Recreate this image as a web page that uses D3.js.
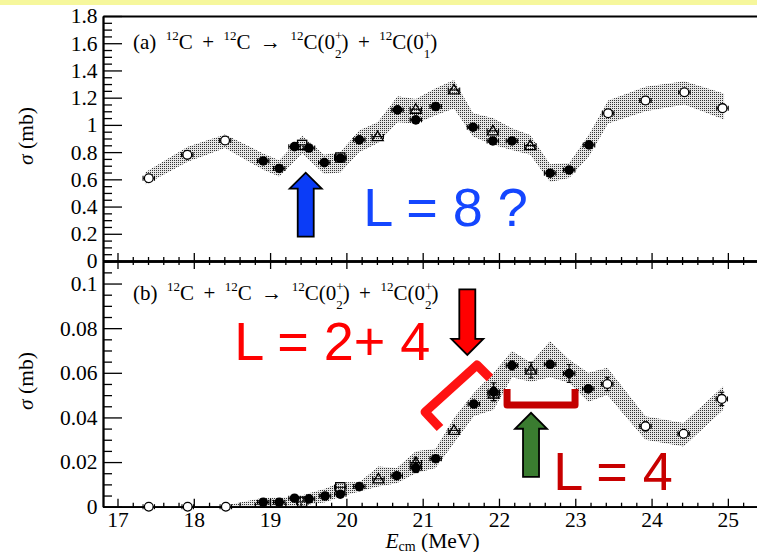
<!DOCTYPE html>
<html>
<head>
<meta charset="utf-8">
<script src="https://cdn.jsdelivr.net/npm/d3@7"></script>
<style>
  html, body { margin: 0; padding: 0; background: #fff; }
  svg { display: block; }
  text { white-space: pre; }
</style>
</head>
<body>
<svg id="chart" width="757" height="552"></svg>
<script>
// ---------- axis ticks ----------
const xTicks  = [17, 18, 19, 20, 21, 22, 23, 24, 25];
const yTicksA = [0, 0.2, 0.4, 0.6, 0.8, 1, 1.2, 1.4, 1.6, 1.8];
const yTicksB = [0, 0.02, 0.04, 0.06, 0.08, 0.1];

// ---------- panel (a): 12C(0+2) + 12C(0+1) ----------
const aE      = [17.41, 17.915, 18.41, 18.91, 19.12, 19.32, 19.42, 19.51, 19.71, 19.92, 19.92, 20.17, 20.41, 20.67, 20.91, 20.91, 21.17, 21.41, 21.66, 21.92, 21.92, 22.17, 22.41, 22.67, 22.92, 23.18, 23.43, 23.92, 24.43, 24.93];
const aSigma  = [0.608, 0.78, 0.885, 0.735, 0.68, 0.84, 0.853, 0.83, 0.723, 0.76, 0.755, 0.89, 0.914, 1.11, 1.115, 1.037, 1.135, 1.257, 0.983, 0.956, 0.882, 0.882, 0.848, 0.645, 0.669, 0.853, 1.086, 1.179, 1.24, 1.123];
const aMarker = ["oc", "oc", "oc", "fc", "fc", "fc", "sq", "fc", "fc", "sq", "fc", "fc", "tri", "fc", "tri", "fc", "fc", "tri", "fc", "tri", "fc", "fc", "tri", "fc", "fc", "fc", "oc", "oc", "oc", "oc"];

// calculated band, panel (a)
const bandA_E  = [17.36, 17.92, 18.41, 18.91, 19.12, 19.42, 19.71, 19.92, 20.17, 20.41, 20.67, 20.91, 21.17, 21.41, 21.66, 21.92, 22.17, 22.41, 22.67, 22.92, 23.18, 23.43, 23.92, 24.43, 24.95];
const bandA_lo = [0.56, 0.73, 0.83, 0.67, 0.62, 0.79, 0.64, 0.65, 0.80, 0.865, 1.02, 1.01, 1.07, 1.12, 0.915, 0.855, 0.815, 0.78, 0.58, 0.61, 0.77, 1.01, 1.10, 1.15, 1.04];
const bandA_hi = [0.65, 0.84, 0.93, 0.79, 0.74, 0.92, 0.78, 0.80, 0.96, 1.02, 1.21, 1.19, 1.27, 1.33, 1.085, 1.05, 0.975, 0.925, 0.71, 0.72, 0.93, 1.18, 1.28, 1.32, 1.23];

// ---------- panel (b): 12C(0+2) + 12C(0+2) ----------
const bE      = [17.41, 17.92, 18.42, 18.91, 19.12, 19.32, 19.42, 19.51, 19.72, 19.92, 19.92, 20.17, 20.42, 20.66, 20.91, 20.91, 21.17, 21.41, 21.67, 21.93, 21.93, 22.17, 22.42, 22.67, 22.92, 23.17, 23.42, 23.92, 24.42, 24.92];
const bSigma  = [0, 0, 0, 0.0020, 0.0020, 0.0038, 0.0022, 0.0035, 0.0048, 0.0087, 0.0056, 0.0090, 0.0125, 0.0139, 0.0198, 0.0173, 0.0215, 0.0342, 0.0460, 0.0505, 0.0515, 0.0633, 0.0612, 0.0638, 0.0597, 0.0528, 0.0550, 0.0360, 0.0327, 0.0483];
const bErr    = [0, 0, 0, 0, 0, 0, 0, 0, 0, 0, 0, 0, 0, 0, 0.002, 0.002, 0, 0, 0.001, 0.003, 0.004, 0.002, 0.0035, 0.0015, 0.004, 0.0015, 0.003, 0.002, 0.0015, 0.003];
const bMarker = ["oc", "oc", "oc", "fc", "fc", "fc", "sq", "fc", "fc", "sq", "fc", "fc", "tri", "fc", "tri", "fc", "fc", "tri", "fc", "tri", "fc", "fc", "tri", "fc", "fc", "fc", "oc", "oc", "oc", "oc"];

// calculated band, panel (b)
const bandB_E  = [18.42, 18.91, 19.12, 19.32, 19.42, 19.51, 19.72, 19.92, 20.17, 20.42, 20.66, 20.91, 21.17, 21.41, 21.67, 21.93, 22.17, 22.42, 22.67, 22.92, 23.17, 23.42, 23.92, 24.42, 24.94];
const bandB_lo = [0, 0, 0, 0, 0.0005, 0.001, 0.002, 0.0045, 0.0068, 0.009, 0.0105, 0.015, 0.0173, 0.0285, 0.0405, 0.0435, 0.058, 0.056, 0.058, 0.0555, 0.047, 0.050, 0.030, 0.027, 0.0435];
const bandB_hi = [0.0005, 0.004, 0.004, 0.0045, 0.005, 0.006, 0.008, 0.011, 0.011, 0.018, 0.0173, 0.0248, 0.026, 0.0398, 0.051, 0.060, 0.0698, 0.0645, 0.0743, 0.066, 0.060, 0.0623, 0.0405, 0.0375, 0.054];

// energy bin half-width shown as horizontal error bars (MeV)
const eHalfWidth = 0.075;

// ---------- layout ----------
const svg = d3.select("#chart");
const W = 757, H = 552;
const left = 103, right = 762.2;
const topA = 16, midY = 261, botB = 506.7;
const serif = "'Liberation Serif', 'Times New Roman', Times, serif";
const sans = "'Liberation Sans', Arial, Helvetica, sans-serif";

const x  = d3.scaleLinear().domain([16.81, 25.45]).range([left, right]);
const yA = d3.scaleLinear().domain([0, 1.8]).range([midY, topA]);
const yB = d3.scaleLinear().domain([0, 0.1101]).range([botB, midY]);

// pale banner strip along the top
svg.append("rect").attr("x", 0).attr("y", 0).attr("width", W).attr("height", 5).attr("fill", "#f6f79c");

const defs = svg.append("defs");
const pat = defs.append("pattern").attr("id", "stipple")
  .attr("width", 2).attr("height", 2).attr("patternUnits", "userSpaceOnUse");
pat.append("rect").attr("width", 2).attr("height", 2).attr("fill", "#e6e6e6");
pat.append("rect").attr("width", 1).attr("height", 1).attr("fill", "#333");

defs.append("clipPath").attr("id", "clipA").append("rect")
  .attr("x", left).attr("y", topA).attr("width", right - left).attr("height", midY - topA);
defs.append("clipPath").attr("id", "clipB").append("rect")
  .attr("x", left).attr("y", midY).attr("width", right - left).attr("height", botB - midY);

// ---------- bands ----------
function drawBand(E, lo, hi, y, clip) {
  const pts = E.map((e, i) => ({ e, lo: lo[i], hi: hi[i] }));
  const area = d3.area().x(d => x(d.e)).y0(d => y(d.lo)).y1(d => y(d.hi));
  svg.append("path").attr("d", area(pts))
    .attr("fill", "url(#stipple)").attr("clip-path", `url(#${clip})`);
}
drawBand(bandA_E, bandA_lo, bandA_hi, yA, "clipA");
drawBand(bandB_E, bandB_lo, bandB_hi, yB, "clipB");

// ---------- axes ----------
function styleAxis(g, size) {
  g.style("font-family", serif).style("font-size", size + "px");
  g.select(".domain").attr("stroke", "#000").attr("stroke-width", 1.8);
  g.selectAll(".tick line").attr("stroke", "#000").attr("stroke-width", 1.3);
  g.selectAll(".tick text")
    .style("font-family", serif).style("font-size", size + "px").attr("fill", "#000");
}
const minorA = d3.range(0, 37).filter(i => i % 4 !== 0).map(i => i * 0.05);
const minorB = d3.range(0, 23).filter(i => i % 4 !== 0).map(i => i * 0.005);
const minorX = d3.range(0, 44).map(i => 16.8 + i * 0.2).filter(v => Math.abs(v - Math.round(v)) > 0.01 && v > 16.85);
const fmt = d3.format("~g");
const tickFont = 21.5;

// panel (a) y axis
let g = svg.append("g").attr("transform", `translate(${left},0)`)
  .call(d3.axisLeft(yA).tickValues(minorA).tickSize(-9).tickSizeOuter(0).tickFormat(""));
styleAxis(g, tickFont);
g = svg.append("g").attr("transform", `translate(${left},0)`)
  .call(d3.axisLeft(yA).tickValues(yTicksA).tickSize(-19).tickSizeOuter(0).tickPadding(5.5).tickFormat(fmt));
styleAxis(g, tickFont);

// panel (b) y axis
g = svg.append("g").attr("transform", `translate(${left},0)`)
  .call(d3.axisLeft(yB).tickValues(minorB).tickSize(-9).tickSizeOuter(0).tickFormat(""));
styleAxis(g, tickFont);
g = svg.append("g").attr("transform", `translate(${left},0)`)
  .call(d3.axisLeft(yB).tickValues(yTicksB).tickSize(-19).tickSizeOuter(0).tickPadding(5.5).tickFormat(fmt));
styleAxis(g, tickFont);

// top frame of panel (a)
g = svg.append("g").attr("transform", `translate(0,${topA})`)
  .call(d3.axisTop(x).tickValues([]).tickSizeOuter(0));
styleAxis(g, tickFont);

// shared boundary: ticks up into (a), ticks down into (b)
g = svg.append("g").attr("transform", `translate(0,${midY})`)
  .call(d3.axisBottom(x).tickValues(xTicks).tickSize(-8).tickSizeOuter(0).tickFormat(""));
styleAxis(g, tickFont);
g = svg.append("g").attr("transform", `translate(0,${midY})`)
  .call(d3.axisBottom(x).tickValues(minorX).tickSize(-4).tickSizeOuter(0).tickFormat(""));
styleAxis(g, tickFont);
g = svg.append("g").attr("transform", `translate(0,${midY})`)
  .call(d3.axisTop(x).tickValues(xTicks).tickSize(-8).tickSizeOuter(0).tickFormat(""));
styleAxis(g, tickFont);
g = svg.append("g").attr("transform", `translate(0,${midY})`)
  .call(d3.axisTop(x).tickValues(minorX).tickSize(-4).tickSizeOuter(0).tickFormat(""));
styleAxis(g, tickFont);

// bottom energy axis
g = svg.append("g").attr("transform", `translate(0,${botB})`)
  .call(d3.axisBottom(x).tickValues(minorX).tickSize(-4).tickSizeOuter(0).tickFormat(""));
styleAxis(g, tickFont);
g = svg.append("g").attr("transform", `translate(0,${botB})`)
  .call(d3.axisBottom(x).tickValues(xTicks).tickSize(-8).tickSizeOuter(0).tickPadding(5).tickFormat(fmt));
styleAxis(g, tickFont);

// ---------- data points ----------
function drawPoints(E, S, err, M, y) {
  const pts = E.map((e, i) => ({ e, s: S[i], err: err ? err[i] : 0, m: M[i] }));
  const eg = svg.append("g").attr("stroke", "#000").attr("stroke-width", 1.1);
  pts.forEach(d => {
    const cx = x(d.e), cy = y(d.s);
    const x0 = x(d.e - eHalfWidth), x1 = x(d.e + eHalfWidth);
    eg.append("line").attr("x1", x0).attr("x2", x1).attr("y1", cy).attr("y2", cy);
    eg.append("line").attr("x1", x0).attr("x2", x0).attr("y1", cy - 2.5).attr("y2", cy + 2.5);
    eg.append("line").attr("x1", x1).attr("x2", x1).attr("y1", cy - 2.5).attr("y2", cy + 2.5);
    if (d.err > 0) {
      const ya = y(d.s - d.err), yb = y(d.s + d.err);
      eg.append("line").attr("x1", cx).attr("x2", cx).attr("y1", ya).attr("y2", yb);
      eg.append("line").attr("x1", cx - 2.5).attr("x2", cx + 2.5).attr("y1", ya).attr("y2", ya);
      eg.append("line").attr("x1", cx - 2.5).attr("x2", cx + 2.5).attr("y1", yb).attr("y2", yb);
    }
  });
  const mg = svg.append("g");
  pts.forEach(d => {
    const cx = x(d.e), cy = y(d.s);
    if (d.m === "fc") {
      mg.append("circle").attr("cx", cx).attr("cy", cy).attr("r", 4.8).attr("fill", "#000");
    } else if (d.m === "oc") {
      mg.append("circle").attr("cx", cx).attr("cy", cy).attr("r", 4.4)
        .attr("fill", "#fff").attr("stroke", "#000").attr("stroke-width", 1.3);
    } else if (d.m === "sq") {
      mg.append("rect").attr("x", cx - 4.6).attr("y", cy - 4.6).attr("width", 9.2).attr("height", 9.2)
        .attr("fill", "none").attr("stroke", "#000").attr("stroke-width", 1.3);
    } else if (d.m === "tri") {
      mg.append("path").attr("d", `M${cx},${cy - 5.5}L${cx + 5.6},${cy + 4}L${cx - 5.6},${cy + 4}Z`)
        .attr("fill", "none").attr("stroke", "#000").attr("stroke-width", 1.3);
    }
  });
}
drawPoints(aE, aSigma, null, aMarker, yA);
drawPoints(bE, bSigma, bErr, bMarker, yB);

// ---------- text helpers ----------
function richText(px, py, parts, size) {
  const t = svg.append("text").attr("x", px).attr("y", py)
    .style("font-family", serif).style("font-size", size + "px").attr("fill", "#000");
  let cur = 0, prevW = 0;
  parts.forEach(p => {
    const off = p.off || 0;
    const ts = t.append("tspan").attr("dy", off - cur).text(p.t);
    if (p.size) ts.style("font-size", p.size + "px");
    if (p.it) ts.style("font-style", "italic");
    if (p.back) ts.attr("dx", -prevW);
    cur = off;
    prevW = ts.node().getComputedTextLength();
  });
  return t;
}
const sup = -9, sub = 9, ss = 13;
const sp = " \u2009";   // widened word gap used in the reaction titles
function reaction(tag, last) {
  return [
    { t: tag + sp }, { t: "12", size: ss, off: sup }, { t: "C" + sp + "+" + sp },
    { t: "12", size: ss, off: sup }, { t: "C" + sp + "\u2192" + sp },
    { t: "12", size: ss, off: sup }, { t: "C(0" },
    { t: "+", size: ss, off: sup }, { t: "2", size: ss, off: sub, back: true },
    { t: ")" + sp + "+" + sp }, { t: "12", size: ss, off: sup }, { t: "C(0" },
    { t: "+", size: ss, off: sup }, { t: last, size: ss, off: sub, back: true },
    { t: ")" }
  ];
}
richText(133, 48.5, reaction("(a)", "1"), 21);
richText(133, 300, reaction("(b)", "2"), 21);

// axis titles
function yTitle(cy) {
  const t = svg.append("text").attr("transform", `translate(33,${cy}) rotate(-90)`)
    .attr("text-anchor", "middle").style("font-family", serif).style("font-size", "21.5px").attr("fill", "#000");
  t.append("tspan").style("font-style", "italic").text("\u03c3");
  t.append("tspan").text(" (mb)");
}
yTitle(136);
yTitle(381);

const xt = svg.append("text").attr("x", 432.5).attr("y", 548).attr("text-anchor", "middle")
  .style("font-family", serif).style("font-size", "21.5px").attr("fill", "#000");
xt.append("tspan").style("font-style", "italic").text("E");
xt.append("tspan").style("font-size", "14px").attr("dy", 3).text("cm");
xt.append("tspan").attr("dy", -3).text(" (MeV)");

// ---------- annotations ----------
function arrow(e, sTail, sTip, y, fill) {
  const cx = x(e), yt = y(sTail), yp = y(sTip);
  const dir = Math.sign(yp - yt), sw = 16, hw = 32, hl = 16;
  const hb = yp - dir * hl;
  const pts = [[cx - sw / 2, yt], [cx - sw / 2, hb], [cx - hw / 2, hb], [cx, yp],
               [cx + hw / 2, hb], [cx + sw / 2, hb], [cx + sw / 2, yt]];
  svg.append("path").attr("d", "M" + pts.map(p => p.join(",")).join("L") + "Z")
    .attr("fill", fill).attr("stroke", "#000").attr("stroke-width", 1.8).attr("stroke-linejoin", "miter");
}
function bracket(E, S, y, color, width) {
  const line = d3.line().x((d, i) => x(E[i])).y((d, i) => y(S[i]));
  svg.append("path").attr("d", line(E)).attr("fill", "none").attr("stroke", color)
    .attr("stroke-width", width).attr("stroke-linejoin", "round").attr("stroke-linecap", "butt");
}
function label(e, s, y, txt, color) {
  svg.append("text").attr("x", x(e)).attr("y", y(s)).style("font-family", sans)
    .style("font-size", "54px").attr("fill", color).text(txt);
}

// panel (a)
arrow(19.467, 0.179, 0.649, yA, "#0b3cf7");
label(20.22, 0.257, yA, "L = 8 ?", "#1446ff");

// panel (b)
arrow(21.585, 0.0974, 0.068, yB, "#ff0000");
arrow(22.42, 0.0134, 0.0421, yB, "#3a7c30");
bracket([21.227, 21.031, 21.712, 21.882], [0.03526, 0.04243, 0.06349, 0.05766], yB, "#ff1212", 9);
bracket([22.106, 22.106, 22.997, 22.997], [0.0527, 0.0456, 0.0456, 0.0527], yB, "#c40000", 7);
label(18.53, 0.0659, yB, "L = 2+ 4", "#ff0000");
label(22.71, 0.0075, yB, "L = 4", "#c80000");
</script>
</body>
</html>
